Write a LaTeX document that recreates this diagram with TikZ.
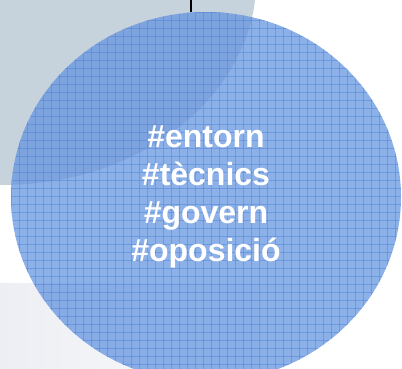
\documentclass[tikz,border=0pt]{standalone}
\usepackage{fontspec}
\setmainfont{Liberation Sans}
\usetikzlibrary{shapes.geometric}

\definecolor{backgray}{RGB}{198,210,220}
\definecolor{floorgray}{RGB}{236,238,243}
\definecolor{bubbleblue}{RGB}{101,149,224}
\definecolor{gridblue}{RGB}{80,130,215}

\tikzset{
  bubble/.style={ellipse, fill=bubbleblue, fill opacity=0.75, text opacity=1,
    minimum width=390pt, minimum height=370pt, inner sep=0pt,
    text=white, align=center, font=\bfseries\fontsize{32}{38}\selectfont},
  gridline/.style={gridblue, opacity=0.5, line width=0.9pt},
  stalkline/.style={black, line width=1.6pt}
}

\begin{document}
\begin{tikzpicture}[x=1pt, y=-1pt]
\useasboundingbox (0,0) rectangle (402,369);

% background
\shade[left color=floorgray, right color=white] (0,283) rectangle (300,369);
\fill[backgray] (0,0) -- (255,0) .. controls (245,90) and (150,185) .. (0,185) -- cycle;

% bubble with its grid
\node[bubble, path picture={
  \foreach \i in {0,...,49} {
    \draw[gridline] ([xshift=\i*8pt]path picture bounding box.north west)
      -- ([xshift=\i*8pt]path picture bounding box.south west);
    \draw[gridline] ([yshift=-\i*8pt]path picture bounding box.north west)
      -- ([yshift=-\i*8pt]path picture bounding box.north east);
  }
}] (bubble) at (206,197) {\#entorn\\\#tècnics\\\#govern\\\#oposició};

\coordinate (stalk) at (191,0);
\draw[stalkline] (stalk) -- (stalk |- bubble.north);

\end{tikzpicture}
\end{document}
